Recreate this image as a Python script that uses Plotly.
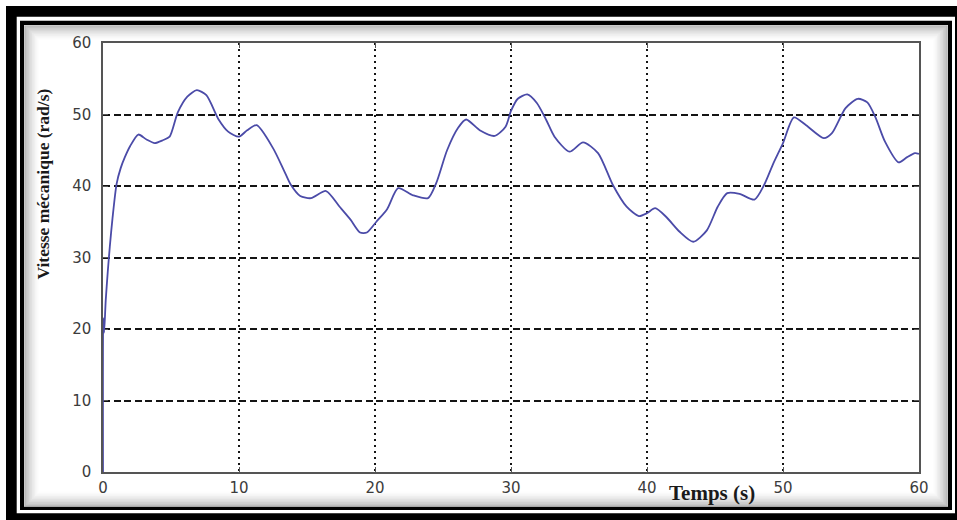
import plotly.graph_objects as go

# Rotor mechanical speed vs time
temps = [0, 0.02, 0.08, 0.2, 0.35, 0.5, 0.7, 1.0, 1.3, 1.6, 2.0, 2.6, 3.2, 3.8, 4.4,
         4.9, 5.5, 6.2, 6.9, 7.6, 8.5, 9.2, 10.0, 10.6, 11.3, 12.5, 13.3, 13.8, 14.5,
         15.3, 16.4, 17.4, 18.2, 18.9, 19.4, 20.1, 20.9, 21.7, 22.8, 23.9, 24.5, 25.3,
         26.1, 26.7, 27.7, 28.8, 29.6, 30.0, 30.5, 31.2, 31.9, 32.6, 33.2, 34.3, 35.3,
         36.4, 37.5, 38.5, 39.4, 40.0, 40.6, 41.4, 42.4, 43.4, 44.4, 45.2, 45.9, 46.8,
         47.9, 48.6, 49.3, 50.0, 50.8, 51.7, 53.0, 53.6, 54.6, 55.5, 56.2, 56.8, 57.5,
         58.5, 59.1, 59.7, 60.0]
vitesse = [0, 21.5, 19.5, 24.0, 28.0, 31.5, 35.5, 40.3, 42.5, 44.0, 45.6, 47.2, 46.5,
           46.0, 46.4, 46.9, 50.3, 52.5, 53.4, 52.7, 49.3, 47.6, 46.9, 47.8, 48.5, 45.3,
           42.2, 40.2, 38.6, 38.3, 39.3, 37.1, 35.3, 33.5, 33.5, 35.0, 36.8, 39.7, 38.7,
           38.3, 40.4, 45.0, 48.1, 49.3, 47.8, 47.0, 48.3, 50.5, 52.2, 52.8, 51.6, 49.2,
           46.9, 44.8, 46.1, 44.6, 40.1, 37.1, 35.8, 36.2, 36.9, 35.7, 33.6, 32.2, 33.8,
           37.1, 39.0, 38.9, 38.1, 40.1, 43.2, 46.0, 49.6, 48.5, 46.7, 47.4, 50.9, 52.2,
           51.7, 49.6, 46.2, 43.3, 44.0, 44.6, 44.5]
x_ticks = [0, 10, 20, 30, 40, 50, 60]
y_ticks = [0, 10, 20, 30, 40, 50, 60]

W, H = 957, 520
ML, MR, MT, MB = 103, 38, 43, 48
PW, PH = W - ML - MR, H - MT - MB


def px(x):
    return (x - ML) / PW


def py(y):
    return (MT + PH - y) / PH


def rect(x0, y0, x1, y1, fill=None, line=None, lw=0):
    return dict(type="rect", xref="paper", yref="paper", layer="below",
                x0=px(x0), x1=px(x1), y0=py(y1), y1=py(y0),
                fillcolor=fill or "rgba(0,0,0,0)",
                line=dict(color=line or "rgba(0,0,0,0)", width=lw))


shapes = [
    rect(6, 6, 980, 540, fill="black"),
    rect(16.7, 16.7, 955, 513.3, fill="white"),
    rect(20, 20.7, 952, 510, fill="black"),
    rect(24, 25, 948, 506.7, fill="white"),
]
# soft inner shadow along the inner frame
for i in range(10):
    a = 0.32 * (1 - i / 10) ** 1.6
    o = 1 + i * 1.5
    shapes.append(rect(24 + o, 25 + o, 948 - o, 506.7 - o,
                       line=f"rgba(40,40,40,{a:.3f})", lw=1.6))

fig = go.Figure()
fig.add_trace(go.Scatter(
    x=temps, y=vitesse, mode="lines",
    line=dict(color="#4b4ba8", width=1.8, shape="spline", smoothing=0.7),
    showlegend=False, hoverinfo="skip",
))

axis_common = dict(
    showline=True, linecolor="#555555", linewidth=1.5, mirror="ticks",
    ticks="inside", ticklen=5, tickcolor="#555555", tickwidth=1.3,
    showgrid=True, gridcolor="#141414", gridwidth=1.8,
    zeroline=False, layer="below traces",
    tickfont=dict(family="DejaVu Sans", size=15, color="#3c3c3c"),
)

fig.update_xaxes(range=[0, 60], tickvals=x_ticks, ticktext=[str(v) for v in x_ticks],
                 griddash="2px,4px", ticklabelstandoff=1, **axis_common)
fig.update_yaxes(range=[0, 60], tickvals=y_ticks, ticktext=[str(v) for v in y_ticks],
                 griddash="7px,3.5px", ticklabelstandoff=7, **axis_common)

fig.add_annotation(
    text="<b>Temps (s)</b>", xref="paper", yref="paper",
    x=px(712), y=py(493), xanchor="center", yanchor="middle", showarrow=False,
    font=dict(family="Liberation Serif", size=21, color="#1a1a1a"),
)
fig.add_annotation(
    text="<b>Vitesse mécanique (rad/s)</b>", xref="paper", yref="paper",
    x=px(42.5), y=py(184), xanchor="center", yanchor="middle", showarrow=False,
    textangle=-90,
    font=dict(family="Liberation Serif", size=17.5, color="#1a1a1a"),
)

fig.update_layout(
    width=W, height=H, autosize=False,
    margin=dict(l=ML, r=MR, t=MT, b=MB, pad=0),
    paper_bgcolor="white", plot_bgcolor="rgba(0,0,0,0)",
    shapes=shapes,
)

fig.write_html("out.html", include_plotlyjs=True, config={"displayModeBar": False})
